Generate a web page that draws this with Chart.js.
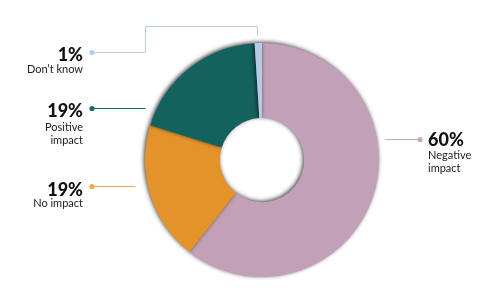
<!DOCTYPE html>
<html>
<head>
<meta charset="utf-8">
<script src="https://cdn.jsdelivr.net/npm/chart.js@4"></script>
<style>
  html, body { margin: 0; padding: 0; background: #fff; }
  #wrap { position: relative; width: 500px; height: 290px; overflow: hidden; }
  canvas { position: absolute; left: 0; top: 0; }
  .pct { position: absolute; font-family: Lato, "Noto Sans", sans-serif; font-weight: 900; font-size: 18px; line-height: 18px; color: #111; white-space: nowrap; }
  .sub { position: absolute; font-family: Lato, "Noto Sans", sans-serif; font-weight: 400; font-size: 11px; line-height: 13px; color: #222; white-space: nowrap; }
  .left { text-align: right; }
</style>
</head>
<body>
<div id="wrap"><canvas id="c" width="500" height="290"></canvas></div>
<script>
// ---- data ----
const categories = ["Negative impact", "No impact", "Positive impact", "Don\u2019t know"];
const values = [60, 19, 19, 1];
const pctLabels = ["60%", "19%", "19%", "1%"];
const subLabels = [["Negative", "impact"], ["No impact"], ["Positive", "impact"], ["Don\u2019t know"]];
const colors = ["#c2a0b7", "#e4932a", "#14625e", "#b7cbe6"];
const lineColors = ["#c8a8bd", "#f0a94a", "#1a6b66", "#b9cee9"];

// ---- label layout (positions of annotations only) ----
const labelLayout = [
  { side: "right", x: 428, pctTop: 130, subTop: 148, dotY: 139 },
  { side: "left", x: 83, pctTop: 180, subTop: 196, dotY: 186 },
  { side: "left", x: 83, pctTop: 101, subTop: 120, dotY: 108 },
  { side: "left", x: 83, pctTop: 45, subTop: 62, dotY: 52 }
];

const wrap = document.getElementById('wrap');
labelLayout.forEach((L, i) => {
  const p = document.createElement('div');
  p.className = 'pct' + (L.side === 'left' ? ' left' : '');
  p.textContent = pctLabels[i];
  const s = document.createElement('div');
  s.className = 'sub' + (L.side === 'left' ? ' left' : '');
  s.innerHTML = subLabels[i].join('<br>');
  if (L.side === 'left') {
    p.style.right = (500 - L.x) + 'px';
    s.style.right = (500 - L.x) + 'px';
  } else {
    p.style.left = L.x + 'px';
    s.style.left = L.x + 'px';
  }
  p.style.top = L.pctTop + 'px';
  s.style.top = L.subTop + 'px';
  wrap.appendChild(p);
  wrap.appendChild(s);
});

const shadowPlugin = {
  id: 'shadow',
  beforeDatasetsDraw(chart) {
    const ctx = chart.ctx;
    ctx.save();
    ctx.shadowColor = 'rgba(0,0,0,0.75)';
    ctx.shadowBlur = 4;
    ctx.shadowOffsetX = -1;
    ctx.shadowOffsetY = -1;
  },
  afterDatasetsDraw(chart) {
    chart.ctx.restore();
  }
};

const leaderPlugin = {
  id: 'leaders',
  afterDraw(chart) {
    const ctx = chart.ctx;
    const arcs = chart.getDatasetMeta(0).data;
    const cx = arcs[0].x, cy = arcs[0].y, r = arcs[0].outerRadius;
    ctx.save();
    ctx.lineWidth = 1;
    const dot = (x, y, c) => { ctx.fillStyle = c; ctx.beginPath(); ctx.arc(x, y, 2.6, 0, Math.PI * 2); ctx.fill(); };
    // Negative impact (right)
    let L = labelLayout[0];
    ctx.strokeStyle = lineColors[0];
    ctx.beginPath(); ctx.moveTo(cx + r + 6, L.dotY + 0.5); ctx.lineTo(L.x - 8, L.dotY + 0.5); ctx.stroke();
    dot(L.x - 8, L.dotY + 0.5, lineColors[0]);
    // No impact
    L = labelLayout[1];
    ctx.strokeStyle = lineColors[1];
    ctx.beginPath(); ctx.moveTo(L.x + 9, L.dotY + 0.5); ctx.lineTo(cx - r - 10, L.dotY + 0.5); ctx.stroke();
    dot(L.x + 9, L.dotY + 0.5, lineColors[1]);
    // Positive impact
    L = labelLayout[2];
    ctx.strokeStyle = lineColors[2];
    ctx.beginPath(); ctx.moveTo(L.x + 9, L.dotY + 0.5); ctx.lineTo(cx - r + 0.5, L.dotY + 0.5); ctx.stroke();
    dot(L.x + 9, L.dotY + 0.5, lineColors[2]);
    // Don't know
    L = labelLayout[3];
    const a = arcs[3];
    const mid = (a.startAngle + a.endAngle) / 2;
    const tx = Math.round(cx + Math.cos(mid) * r) - 0.5;
    ctx.strokeStyle = lineColors[3];
    ctx.beginPath();
    ctx.moveTo(L.x + 9, L.dotY + 0.5);
    ctx.lineTo(cx - r + 0.5, L.dotY + 0.5);
    ctx.lineTo(cx - r + 0.5, cy - r - 16.5);
    ctx.lineTo(tx, cy - r - 16.5);
    ctx.lineTo(tx, cy - r - 7);
    ctx.stroke();
    dot(L.x + 9, L.dotY + 0.5, lineColors[3]);
    ctx.restore();
  }
};

new Chart(document.getElementById('c'), {
  type: 'doughnut',
  data: {
    labels: categories,
    datasets: [{
      data: values,
      backgroundColor: colors,
      borderWidth: 0,
      hoverOffset: 0
    }]
  },
  options: {
    responsive: false,
    animation: false,
    cutout: '36%',
    rotation: 0,
    layout: { padding: { left: 145, right: 121, top: 43, bottom: 13 } },
    plugins: { legend: { display: false }, tooltip: { enabled: false } }
  },
  plugins: [shadowPlugin, leaderPlugin]
});
</script>
</body>
</html>
